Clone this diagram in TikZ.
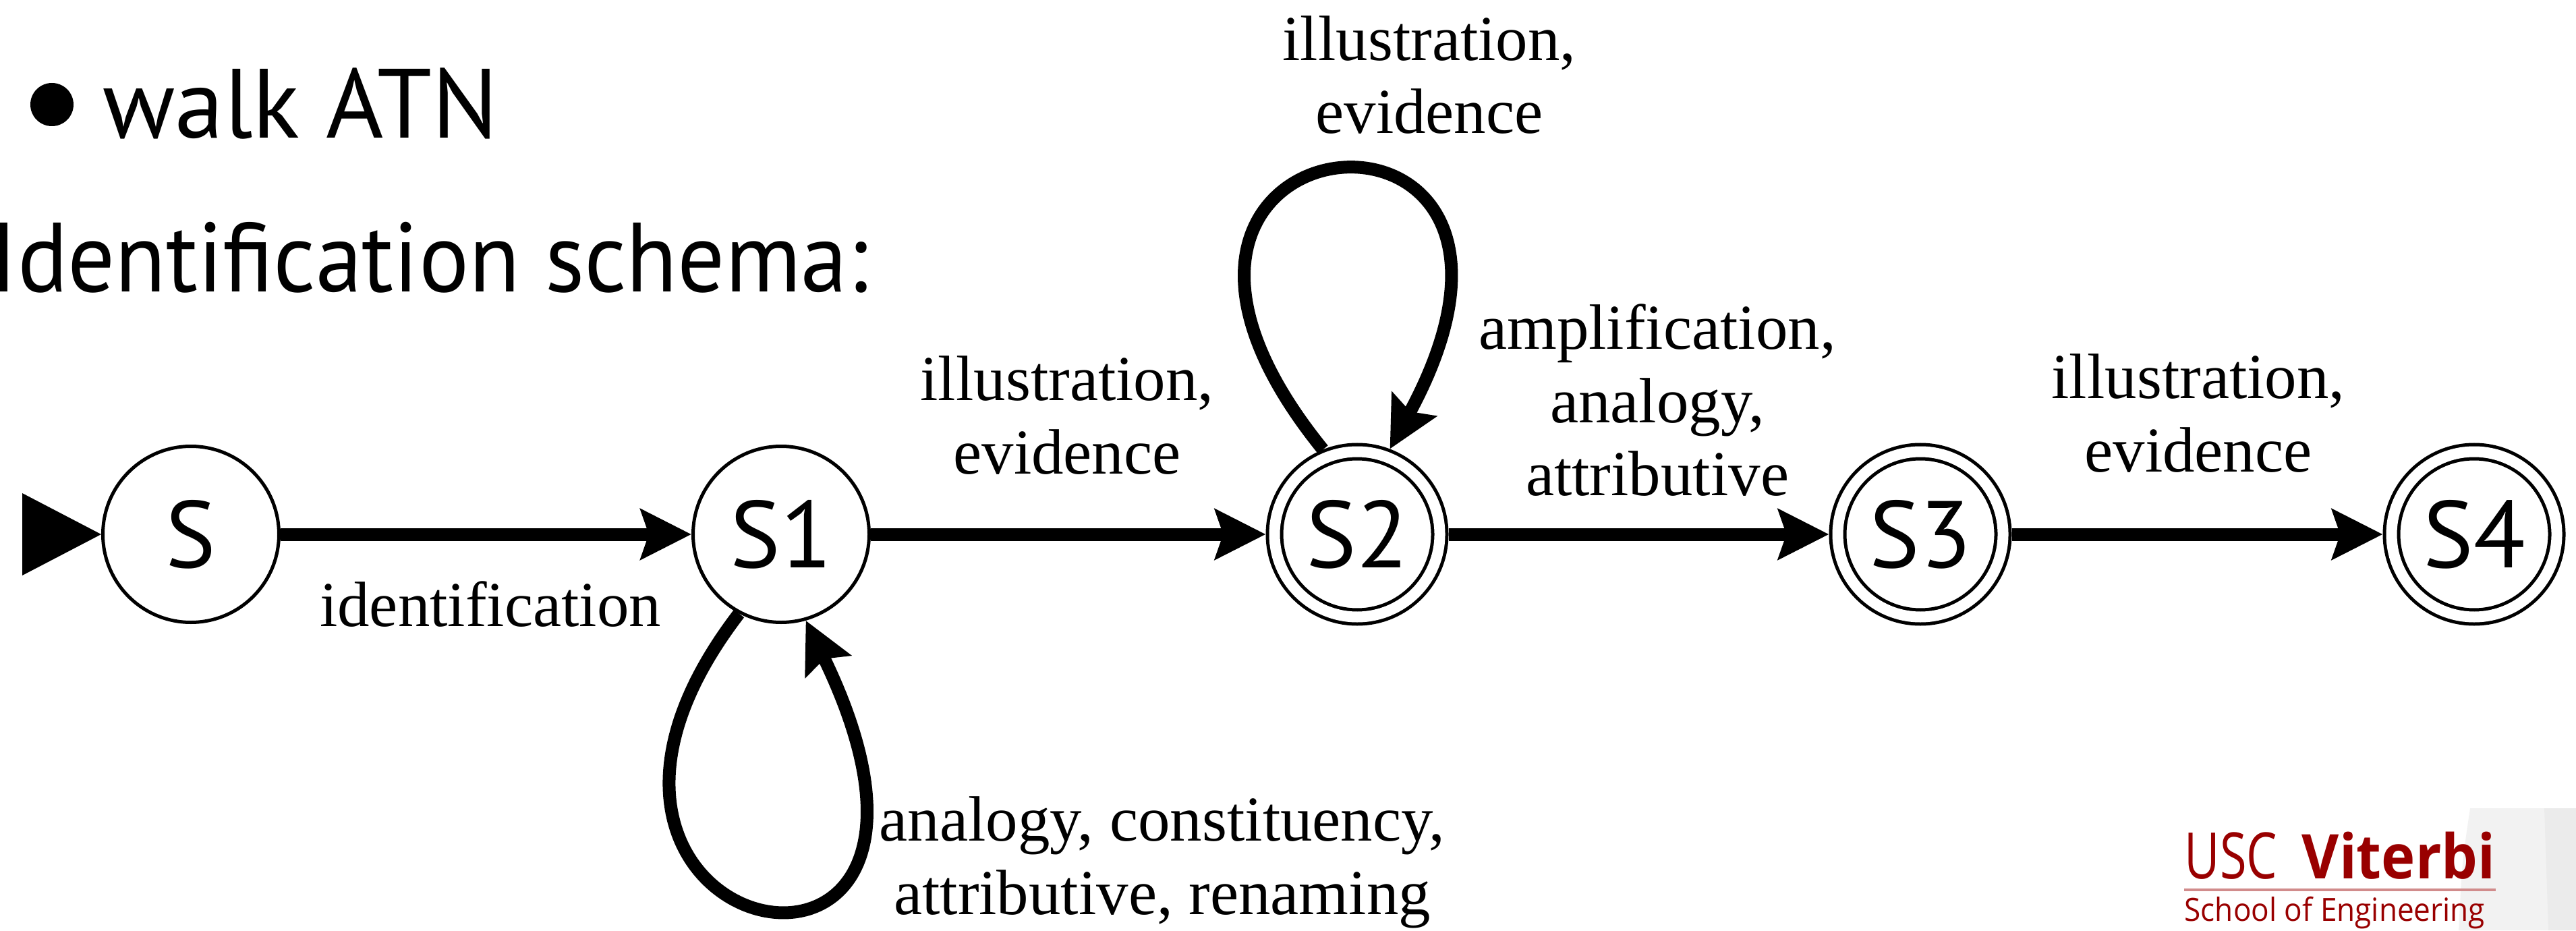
\documentclass[tikz,border=0pt]{standalone}
\usepackage{fontspec}
\setmainfont{Liberation Serif}
\newfontfamily\slidefont{PT Sans}
\newfontfamily\slidenarrow[FakeStretch=0.95]{PT Sans}
\newfontfamily\logofont[FakeStretch=0.93]{Open Sans}
\newfontfamily\logonarrow[FakeStretch=0.76]{Open Sans}
\usetikzlibrary{arrows.meta}
\definecolor{uscred}{RGB}{153,0,0}
\tikzset{statenode/.style = {circle,draw,line width=0.05cm,minimum size=2.61cm,inner sep=0pt,
  font=\slidefont\fontsize{40}{40}\selectfont}}
\tikzset{finalnode/.style = {statenode,double,double distance=0.16cm,minimum size=2.45cm,outer sep=0.13cm}}
\tikzset{arc/.style = {line width=0.19cm,-{Stealth[length=0.75cm,width=0.74cm,inset=0.12cm]}}}
\tikzset{arclabel/.style = {align=center,inner sep=0pt,font=\fontsize{27}{31}\selectfont}}
\tikzset{slidetext/.style = {anchor=base west,inner sep=0pt,font=\slidefont\fontsize{41.5}{41.5}\selectfont}}
\tikzset{logotext/.style = {inner sep=0pt,text=uscred}}

\begin{document}
\begin{tikzpicture}
\useasboundingbox (0,0) rectangle (38.19,13.79);

% watermark behind the logo
\fill[black!5] (36.45,0) .. controls (36.5,1.0) .. (36.62,1.81) -- (38.19,1.81) -- (38.19,0) -- cycle;
\fill[black!8] (37.78,0) -- (37.72,1.81) -- (38.19,1.81) -- (38.19,0) -- cycle;

% slide text
\node[circle,fill,minimum size=0.64cm,inner sep=0pt] (bullet) at (0.77,12.24) {};
\node[slidetext] (walk) at (1.52,11.74) {walk ATN};
\node[slidetext,font=\slidenarrow\fontsize{41.5}{41.5}\selectfont] (schema) at (-0.15,9.46) {Identification schema:};

% states
\node[statenode] (S) at (2.83,5.87) {S};
\node[statenode] (S1) at (11.58,5.87) {S1};
\node[finalnode] (S2) at (20.12,5.87) {S2};
\node[finalnode] (S3) at (28.47,5.87) {S3};
\node[finalnode] (S4) at (36.68,5.87) {S4};

\fill (S.west) -- ++(-1.17,0.61) -- ++(0,-1.22) -- cycle;

\draw[arc] (S) -- (S1);
\draw[arc] (S1) -- (S2);
\draw[arc] (S2) -- (S3);
\draw[arc] (S3) -- (S4);
\draw[arc] (S1.242) .. controls +(-3.76,-4.9) and +(3.15,-6.49) .. (S1.286);
\draw[arc] (S2.112) .. controls +(-4.11,5.07) and +(3.19,5.87) .. (S2.69);

% labels (base = last line)
\node[arclabel,anchor=base] (lid) at (7.27,4.51) {identification};
\node[arclabel,anchor=base] (l12) at (15.82,6.77) {illustration,\\evidence};
\node[arclabel,anchor=base] (l23) at (24.57,6.44) {amplification,\\analogy,\\attributive};
\node[arclabel,anchor=base] (l34) at (32.59,6.80) {illustration,\\evidence};
\node[arclabel,anchor=base] (l22) at (21.19,11.81) {illustration,\\evidence};
\node[arclabel,anchor=base] (l11) at (17.23,0.24) {analogy, constituency,\\attributive, renaming};

% logo
\node[logotext,anchor=base west,font=\logonarrow\fontsize{27}{27}\selectfont] (usc) at (32.38,0.77) {USC};
\node[logotext,anchor=base east,font=\logofont\bfseries\fontsize{26}{26}\selectfont] (viterbi) at (37.0,0.77) {Viterbi};
\draw[uscred!45,line width=0.04cm] (32.38,0.60) -- (37.0,0.60);
\node[logotext,anchor=base west,font=\logofont\fontsize{13.5}{13.5}\selectfont] (school) at (32.38,0.14) {School of Engineering};
\end{tikzpicture}
\end{document}
